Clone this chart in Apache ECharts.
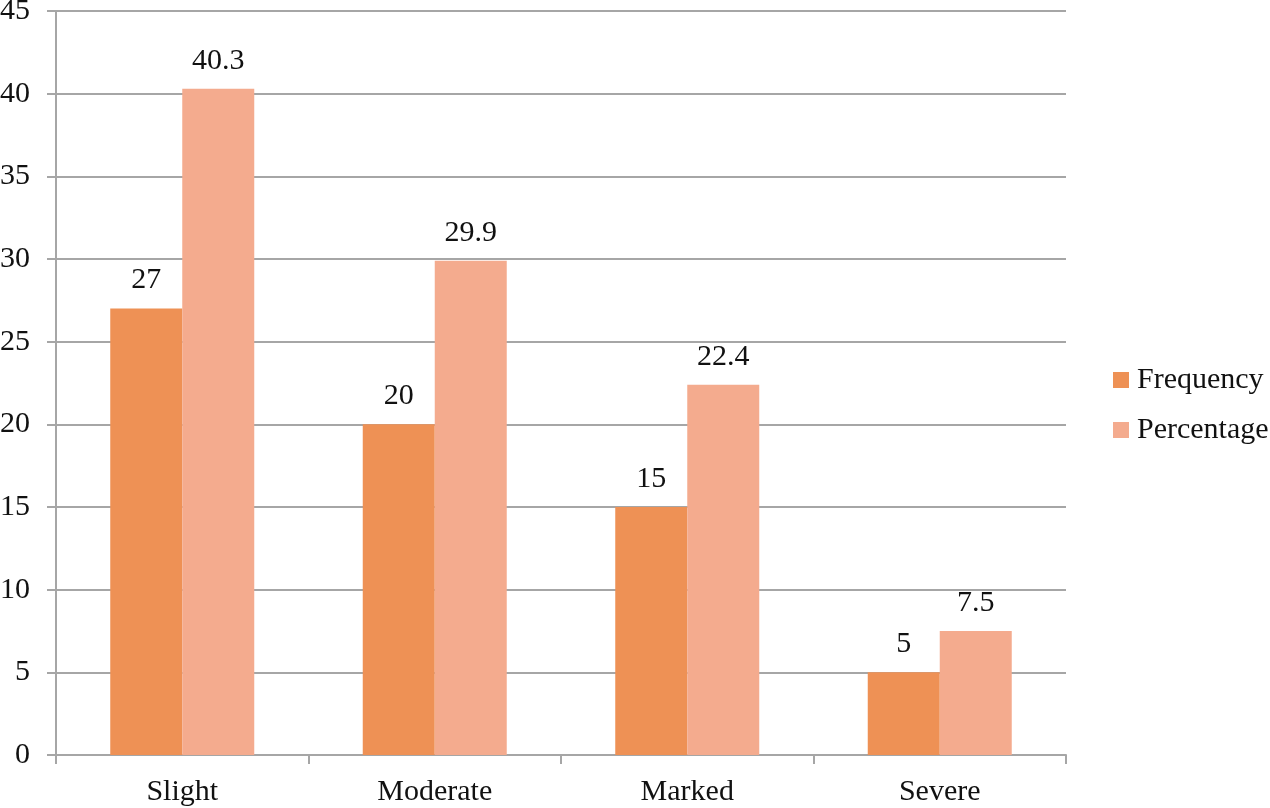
<!DOCTYPE html>
<html><head><meta charset="utf-8">
<script src="https://cdn.jsdelivr.net/npm/echarts@6/dist/echarts.min.js"></script>
<style>html,body{margin:0;padding:0;background:#fff}#c{width:1270px;height:808px}</style>
</head><body><div id="c"></div>
<script>
const categories = ['Slight', 'Moderate', 'Marked', 'Severe'];
const frequency = [27, 20, 15, 5];
const percentage = [40.3, 29.9, 22.4, 7.5];
const seriesNames = ['Frequency', 'Percentage'];

const font = 'Liberation Serif';
const fs = 30;
const chart = echarts.init(document.getElementById('c'));
const labelStyle = {show: true, position: 'top', distance: 13, color: '#111', fontFamily: font, fontSize: fs};
chart.setOption({
  animation: false,
  grid: {left: 56, right: 204, top: 11, bottom: 53, containLabel: false, outerBoundsMode: 'none'},
  legend: {
    orient: 'vertical', left: 1108, top: 360, itemGap: 20,
    itemWidth: 16, itemHeight: 16, icon: 'rect',
    textStyle: {fontFamily: font, fontSize: fs, color: '#111', padding: [0,0,0,3]},
    data: seriesNames
  },
  xAxis: {
    type: 'category', data: categories,
    axisLine: {lineStyle: {color: '#A6A6A6', width: 2}},
    axisTick: {show: true, length: 9, lineStyle: {color: '#A6A6A6', width: 2}},
    axisLabel: {fontFamily: font, fontSize: fs, color: '#111', margin: 22}
  },
  yAxis: {
    type: 'value', min: 0, max: 45, interval: 5,
    axisLine: {show: true, lineStyle: {color: '#A6A6A6', width: 2}},
    axisTick: {show: true, length: 9, lineStyle: {color: '#A6A6A6', width: 2}},
    splitLine: {lineStyle: {color: '#A6A6A6', width: 2}},
    axisLabel: {fontFamily: font, fontSize: fs, color: '#111', margin: 26}
  },
  series: [
    {name: seriesNames[0], type: 'bar', data: frequency, barWidth: 72, barGap: '0%', itemStyle: {color: '#EE9155'}, label: labelStyle},
    {name: seriesNames[1], type: 'bar', data: percentage, barWidth: 72, barGap: '0%', itemStyle: {color: '#F4AB8E'}, label: labelStyle}
  ]
});
</script></body></html>
